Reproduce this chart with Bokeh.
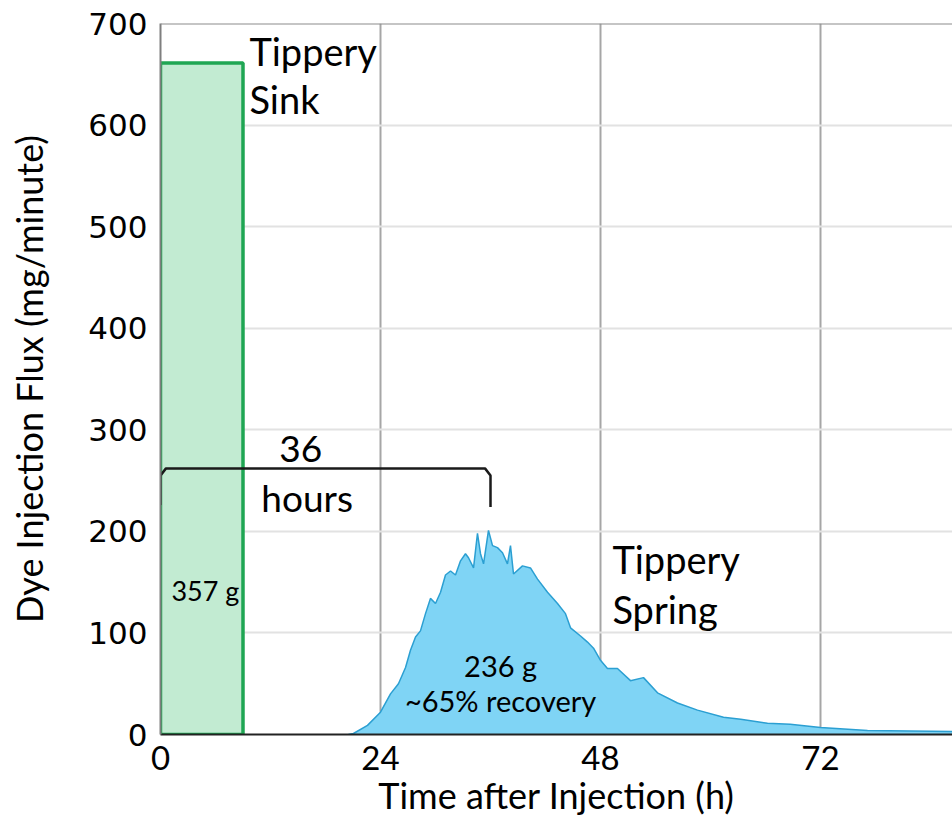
from bokeh.plotting import figure
from bokeh.models import Range1d, FixedTicker, Span
from bokeh.core.properties import value
from bokeh.embed import file_html
from bokeh.resources import INLINE

# Dye injected at Tippery Sink: constant flux over the injection period
sink_start_h = 0.0
sink_end_h = 9.0
sink_flux = 661.0          # mg/minute  (661 * 540 min ~ 357 g)

# Dye recovered at Tippery Spring (time in hours, flux in mg/minute)
spring_time = [20.5, 21.05, 22.58, 24.0, 25.09, 25.96, 26.73, 27.27, 27.82, 28.36,
               28.91, 29.45, 30.0, 30.55, 31.09, 31.64, 32.18, 32.73, 33.27, 33.6,
               34.15, 34.58, 34.91, 35.24, 35.78, 36.22, 36.76, 37.31, 37.85, 38.18,
               38.51, 39.49, 40.36, 41.13, 42.22, 43.31, 44.18, 44.73, 45.82, 46.58,
               47.24, 48.0, 48.76, 49.85, 51.27, 52.69, 54.22, 56.4, 58.58, 61.42,
               63.3, 66.22, 68.7, 72.0, 77.13, 86.4]
spring_flux = [0, 1, 9, 22, 40, 50, 66, 83, 96, 102,
               119, 134, 129, 140, 157, 161, 157, 171, 178, 174,
               164, 198, 178, 168, 201, 186, 184, 179, 168, 186,
               158, 166, 164, 153, 140, 129, 119, 105, 97, 91,
               85, 73, 65, 65, 53, 56, 41, 31, 24, 17,
               15, 11, 10, 7, 4, 3]

x_ticks = [0, 24, 48, 72]
y_ticks = [0, 100, 200, 300, 400, 500, 600, 700]

travel_time_h = 36

FONT = "Lato"
TICK_FONT = "DejaVu Sans"

p = figure(width=952, height=822, output_backend="svg", toolbar_location=None,
           x_range=Range1d(0, 86.4), y_range=Range1d(0, 700),
           min_border_left=160, min_border_right=0, min_border_top=23,
           min_border_bottom=88)
p.outline_line_color = None
p.background_fill_color = "white"
p.border_fill_color = "white"

# grid
p.xgrid.ticker = FixedTicker(ticks=[24, 48, 72])
p.xgrid.grid_line_color = "#a6a6a6"
p.xgrid.grid_line_width = 2
p.ygrid.ticker = FixedTicker(ticks=y_ticks[1:-1])
p.ygrid.grid_line_color = "#e2e2e2"
p.ygrid.grid_line_width = 2
p.add_layout(Span(location=700, dimension="width", line_color="#8c8c8c", line_width=2))

# axes
p.xaxis.ticker = FixedTicker(ticks=x_ticks)
p.yaxis.ticker = FixedTicker(ticks=y_ticks)
for ax in (p.xaxis[0], p.yaxis[0]):
    ax.major_tick_line_color = None
    ax.minor_tick_line_color = None
    ax.major_label_text_color = "black"
    ax.axis_label_text_color = "black"
    ax.axis_label_text_font_style = "normal"
p.xaxis.axis_line_color = "#222222"
p.xaxis.axis_line_width = 2
p.yaxis.axis_line_color = "#7f7f7f"
p.yaxis.axis_line_width = 2

p.xaxis.axis_label = "Time after Injection (h)"
p.xaxis.axis_label_text_font = FONT
p.xaxis.axis_label_text_font_size = "36px"
p.xaxis.major_label_text_font = FONT
p.xaxis.major_label_text_font_size = "33px"
p.xaxis.major_label_standoff = 5
p.xaxis.axis_label_standoff = 0

p.yaxis.axis_label = "Dye Injection Flux (mg/minute)"
p.yaxis.axis_label_text_font = FONT
p.yaxis.axis_label_text_font_size = "36px"
p.yaxis.major_label_text_font = TICK_FONT
p.yaxis.major_label_text_font_size = "31px"
p.yaxis.major_label_standoff = 7
p.yaxis.axis_label_standoff = 34

# Tippery Sink injection
p.quad(left=sink_start_h, right=sink_end_h, bottom=0, top=sink_flux,
       fill_color="#c2ebd2", fill_alpha=1.0, line_color="#1fa653", line_width=3.5)

# Tippery Spring breakthrough curve
p.varea(x=spring_time, y1=[0] * len(spring_time), y2=spring_flux, fill_color="#7fd4f5")
p.line(x=spring_time, y=spring_flux, line_color="#2b9fd2", line_width=1.5)

# travel-time bracket
bx = [0, 0, 0.6, travel_time_h - 0.6, travel_time_h, travel_time_h]
by = [226, 255, 262, 262, 255, 224]
p.line(x=bx, y=by, line_color="#1a1a1a", line_width=2.5)

def label(x, y, txt, size, align="left"):
    p.text(x=[x], y=[y], text=[txt], text_font=value(FONT), text_font_size=size,
           text_align=align, text_baseline="middle", text_color="black")

label(15.3, 281, "36", "37px", "center")
label(16.0, 233, "hours", "37px", "center")
label(9.7, 673, "Tippery", "38px")
label(9.7, 626, "Sink", "38px")
label(4.9, 142, "357 g", "27px", "center")
label(37.1, 68, "236 g", "29px", "center")
label(37.1, 33, "~65% recovery", "29px", "center")
label(49.3, 173, "Tippery", "38px")
label(49.3, 124, "Spring", "38px")

open("out.html", "w").write(file_html(p, INLINE))
